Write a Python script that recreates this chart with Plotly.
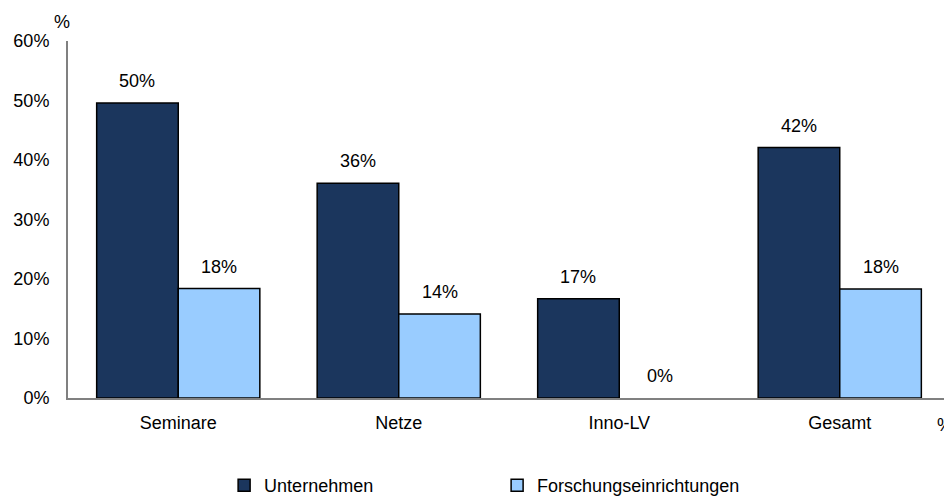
import plotly.graph_objects as go

# Daten
kategorien = ["Seminare", "Netze", "Inno-LV", "Gesamt"]
unternehmen = [49.6, 36.1, 16.7, 42.1]
forschung = [18.4, 14.1, 0.0, 18.3]
serien = ["Unternehmen", "Forschungseinrichtungen"]
y_ticks = [0, 10, 20, 30, 40, 50, 60]

FONT = "Liberation Sans, Arial, sans-serif"
FS = 18
dunkel = "#1b365d"
hell = "#99ccff"

# Umrandung nur bei Balken mit Wert > 0
def rand(werte):
    return [1.5 if v > 0 else 0 for v in werte]

fig = go.Figure()
fig.add_trace(go.Bar(x=kategorien, y=unternehmen, name=serien[0],
                     marker=dict(color=dunkel, line=dict(color="black", width=rand(unternehmen)))))
fig.add_trace(go.Bar(x=kategorien, y=forschung, name=serien[1],
                     marker=dict(color=hell, line=dict(color="black", width=rand(forschung)))))

# Wertebeschriftungen über den Balken
for i, (u, f) in enumerate(zip(unternehmen, forschung)):
    for val, off in ((u, -0.185), (f, 0.185)):
        fig.add_annotation(x=i + off, y=val, xref="x", yref="y", text=f"{round(val)}%",
                           showarrow=False, xanchor="center", yanchor="bottom", yshift=10,
                           font=dict(size=FS, color="black", family=FONT))

# Einheiten-Beschriftungen
fig.add_annotation(x=-6 / 882, y=1 + 19 / 357, xref="paper", yref="paper", text="%",
                   showarrow=False, xanchor="center", yanchor="middle",
                   font=dict(size=FS, color="black", family=FONT))
fig.add_annotation(x=877 / 882, y=-27 / 357, xref="paper", yref="paper", text="%",
                   showarrow=False, xanchor="center", yanchor="middle",
                   font=dict(size=FS, color="black", family=FONT))

# die Seite hat 8px Rand, deshalb etwas kleiner
fig.update_layout(
    width=944, height=492,
    margin=dict(l=60, r=2, t=33, b=102, autoexpand=False),
    plot_bgcolor="white", paper_bgcolor="white",
    barmode="group", bargap=0.26, bargroupgap=0,
    font=dict(family=FONT, size=FS, color="black"),
    showlegend=True,
    legend=dict(orientation="h", x=0.177, y=-0.245, xanchor="left", yanchor="middle",
                entrywidth=228, entrywidthmode="pixels", itemwidth=30,
                font=dict(size=FS, family=FONT), tracegroupgap=0),
)
fig.update_xaxes(showline=True, linecolor="#808080", linewidth=2,
                 ticks="outside", ticklen=7, tickcolor="rgba(0,0,0,0)",
                 showgrid=False, zeroline=False, automargin=False)
fig.update_yaxes(range=[0, 60], tickvals=y_ticks, ticktext=[f"{v}%" for v in y_ticks],
                 showline=True, linecolor="#808080", linewidth=2,
                 ticks="outside", ticklen=13, tickcolor="rgba(0,0,0,0)",
                 showgrid=False, zeroline=False, automargin=False)

fig.write_html("out.html")
